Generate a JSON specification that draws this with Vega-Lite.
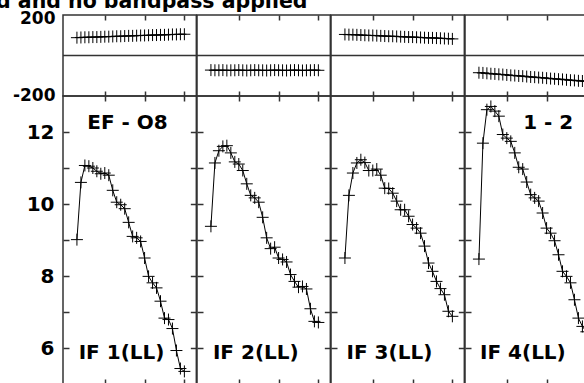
{
  "$schema": "https://vega.github.io/schema/vega-lite/v6.json",
  "background": "white",
  "padding": {"left": -4, "top": -9, "right": -13, "bottom": 0},
  "title": {"text": "d and no bandpass applied", "anchor": "start", "frame": "group", "font": "DejaVu Sans", "fontSize": 20.5, "fontWeight": "bold", "color": "#000", "baseline": "alphabetic", "offset": -20, "dx": -67},
  "datasets": {
    "amp": [
      {"if":1,"ch":3,"amp":9.01},{"if":1,"ch":4,"amp":10.60},{"if":1,"ch":5,"amp":11.07},{"if":1,"ch":6,"amp":11.05},{"if":1,"ch":7,"amp":11.00},{"if":1,"ch":8,"amp":10.91},{"if":1,"ch":9,"amp":10.84},{"if":1,"ch":10,"amp":10.86},{"if":1,"ch":11,"amp":10.80},{"if":1,"ch":12,"amp":10.38},{"if":1,"ch":13,"amp":10.05},{"if":1,"ch":14,"amp":9.98},{"if":1,"ch":15,"amp":9.87},{"if":1,"ch":16,"amp":9.49},{"if":1,"ch":17,"amp":9.10},{"if":1,"ch":18,"amp":9.06},{"if":1,"ch":19,"amp":8.96},{"if":1,"ch":20,"amp":8.50},{"if":1,"ch":21,"amp":7.99},{"if":1,"ch":22,"amp":7.81},{"if":1,"ch":23,"amp":7.67},{"if":1,"ch":24,"amp":7.30},{"if":1,"ch":25,"amp":6.83},{"if":1,"ch":26,"amp":6.79},{"if":1,"ch":27,"amp":6.54},{"if":1,"ch":28,"amp":5.93},{"if":1,"ch":29,"amp":5.43},{"if":1,"ch":30,"amp":5.35},
      {"if":2,"ch":3,"amp":9.38},{"if":2,"ch":4,"amp":11.14},{"if":2,"ch":5,"amp":11.48},{"if":2,"ch":6,"amp":11.60},{"if":2,"ch":7,"amp":11.62},{"if":2,"ch":8,"amp":11.42},{"if":2,"ch":9,"amp":11.17},{"if":2,"ch":10,"amp":11.11},{"if":2,"ch":11,"amp":10.93},{"if":2,"ch":12,"amp":10.56},{"if":2,"ch":13,"amp":10.24},{"if":2,"ch":14,"amp":10.17},{"if":2,"ch":15,"amp":10.05},{"if":2,"ch":16,"amp":9.63},{"if":2,"ch":17,"amp":9.06},{"if":2,"ch":18,"amp":8.76},{"if":2,"ch":19,"amp":8.80},{"if":2,"ch":20,"amp":8.50},{"if":2,"ch":21,"amp":8.46},{"if":2,"ch":22,"amp":8.39},{"if":2,"ch":23,"amp":8.04},{"if":2,"ch":24,"amp":7.85},{"if":2,"ch":25,"amp":7.69},{"if":2,"ch":26,"amp":7.71},{"if":2,"ch":27,"amp":7.64},{"if":2,"ch":28,"amp":7.09},{"if":2,"ch":29,"amp":6.74},{"if":2,"ch":30,"amp":6.71},
      {"if":3,"ch":3,"amp":8.50},{"if":3,"ch":4,"amp":10.24},{"if":3,"ch":5,"amp":10.86},{"if":3,"ch":6,"amp":11.14},{"if":3,"ch":7,"amp":11.23},{"if":3,"ch":8,"amp":11.15},{"if":3,"ch":9,"amp":10.93},{"if":3,"ch":10,"amp":10.93},{"if":3,"ch":11,"amp":10.97},{"if":3,"ch":12,"amp":10.80},{"if":3,"ch":13,"amp":10.44},{"if":3,"ch":14,"amp":10.43},{"if":3,"ch":15,"amp":10.30},{"if":3,"ch":16,"amp":10.08},{"if":3,"ch":17,"amp":9.84},{"if":3,"ch":18,"amp":9.84},{"if":3,"ch":19,"amp":9.66},{"if":3,"ch":20,"amp":9.43},{"if":3,"ch":21,"amp":9.33},{"if":3,"ch":22,"amp":9.19},{"if":3,"ch":23,"amp":8.83},{"if":3,"ch":24,"amp":8.36},{"if":3,"ch":25,"amp":8.13},{"if":3,"ch":26,"amp":7.85},{"if":3,"ch":27,"amp":7.65},{"if":3,"ch":28,"amp":7.48},{"if":3,"ch":29,"amp":7.02},{"if":3,"ch":30,"amp":6.88},
      {"if":4,"ch":3,"amp":8.47},{"if":4,"ch":4,"amp":11.69},{"if":4,"ch":5,"amp":12.62},{"if":4,"ch":6,"amp":12.71},{"if":4,"ch":7,"amp":12.58},{"if":4,"ch":8,"amp":12.44},{"if":4,"ch":9,"amp":11.93},{"if":4,"ch":10,"amp":11.83},{"if":4,"ch":11,"amp":11.74},{"if":4,"ch":12,"amp":11.42},{"if":4,"ch":13,"amp":11.02},{"if":4,"ch":14,"amp":10.97},{"if":4,"ch":15,"amp":10.61},{"if":4,"ch":16,"amp":10.26},{"if":4,"ch":17,"amp":10.17},{"if":4,"ch":18,"amp":10.08},{"if":4,"ch":19,"amp":9.75},{"if":4,"ch":20,"amp":9.33},{"if":4,"ch":21,"amp":9.19},{"if":4,"ch":22,"amp":8.98},{"if":4,"ch":23,"amp":8.59},{"if":4,"ch":24,"amp":8.13},{"if":4,"ch":25,"amp":7.99},{"if":4,"ch":26,"amp":7.81},{"if":4,"ch":27,"amp":7.34},{"if":4,"ch":28,"amp":6.83},{"if":4,"ch":29,"amp":6.60},{"if":4,"ch":30,"amp":6.45}
    ],
    "phase": [
      {"if":1,"ch":3,"ph":88},{"if":1,"ch":4,"ph":89},{"if":1,"ch":5,"ph":90},{"if":1,"ch":6,"ph":90},{"if":1,"ch":7,"ph":91},{"if":1,"ch":8,"ph":91},{"if":1,"ch":9,"ph":92},{"if":1,"ch":10,"ph":93},{"if":1,"ch":11,"ph":93},{"if":1,"ch":12,"ph":94},{"if":1,"ch":13,"ph":95},{"if":1,"ch":14,"ph":95},{"if":1,"ch":15,"ph":96},{"if":1,"ch":16,"ph":97},{"if":1,"ch":17,"ph":97},{"if":1,"ch":18,"ph":98},{"if":1,"ch":19,"ph":99},{"if":1,"ch":20,"ph":99},{"if":1,"ch":21,"ph":100},{"if":1,"ch":22,"ph":101},{"if":1,"ch":23,"ph":101},{"if":1,"ch":24,"ph":102},{"if":1,"ch":25,"ph":102},{"if":1,"ch":26,"ph":103},{"if":1,"ch":27,"ph":104},{"if":1,"ch":28,"ph":104},{"if":1,"ch":29,"ph":105},{"if":1,"ch":30,"ph":105},
      {"if":2,"ch":3,"ph":-72},{"if":2,"ch":4,"ph":-73},{"if":2,"ch":5,"ph":-73},{"if":2,"ch":6,"ph":-72},{"if":2,"ch":7,"ph":-74},{"if":2,"ch":8,"ph":-73},{"if":2,"ch":9,"ph":-73},{"if":2,"ch":10,"ph":-72},{"if":2,"ch":11,"ph":-73},{"if":2,"ch":12,"ph":-74},{"if":2,"ch":13,"ph":-73},{"if":2,"ch":14,"ph":-72},{"if":2,"ch":15,"ph":-73},{"if":2,"ch":16,"ph":-73},{"if":2,"ch":17,"ph":-74},{"if":2,"ch":18,"ph":-73},{"if":2,"ch":19,"ph":-72},{"if":2,"ch":20,"ph":-73},{"if":2,"ch":21,"ph":-73},{"if":2,"ch":22,"ph":-74},{"if":2,"ch":23,"ph":-73},{"if":2,"ch":24,"ph":-72},{"if":2,"ch":25,"ph":-73},{"if":2,"ch":26,"ph":-74},{"if":2,"ch":27,"ph":-73},{"if":2,"ch":28,"ph":-73},{"if":2,"ch":29,"ph":-72},{"if":2,"ch":30,"ph":-73},
      {"if":3,"ch":3,"ph":104},{"if":3,"ch":4,"ph":103},{"if":3,"ch":5,"ph":103},{"if":3,"ch":6,"ph":102},{"if":3,"ch":7,"ph":101},{"if":3,"ch":8,"ph":100},{"if":3,"ch":9,"ph":99},{"if":3,"ch":10,"ph":99},{"if":3,"ch":11,"ph":98},{"if":3,"ch":12,"ph":97},{"if":3,"ch":13,"ph":96},{"if":3,"ch":14,"ph":95},{"if":3,"ch":15,"ph":95},{"if":3,"ch":16,"ph":94},{"if":3,"ch":17,"ph":93},{"if":3,"ch":18,"ph":92},{"if":3,"ch":19,"ph":91},{"if":3,"ch":20,"ph":91},{"if":3,"ch":21,"ph":90},{"if":3,"ch":22,"ph":89},{"if":3,"ch":23,"ph":88},{"if":3,"ch":24,"ph":87},{"if":3,"ch":25,"ph":87},{"if":3,"ch":26,"ph":86},{"if":3,"ch":27,"ph":85},{"if":3,"ch":28,"ph":84},{"if":3,"ch":29,"ph":83},{"if":3,"ch":30,"ph":82},
      {"if":4,"ch":3,"ph":-85},{"if":4,"ch":4,"ph":-86},{"if":4,"ch":5,"ph":-88},{"if":4,"ch":6,"ph":-90},{"if":4,"ch":7,"ph":-91},{"if":4,"ch":8,"ph":-93},{"if":4,"ch":9,"ph":-94},{"if":4,"ch":10,"ph":-96},{"if":4,"ch":11,"ph":-98},{"if":4,"ch":12,"ph":-99},{"if":4,"ch":13,"ph":-101},{"if":4,"ch":14,"ph":-102},{"if":4,"ch":15,"ph":-104},{"if":4,"ch":16,"ph":-106},{"if":4,"ch":17,"ph":-107},{"if":4,"ch":18,"ph":-109},{"if":4,"ch":19,"ph":-110},{"if":4,"ch":20,"ph":-112},{"if":4,"ch":21,"ph":-114},{"if":4,"ch":22,"ph":-115},{"if":4,"ch":23,"ph":-117},{"if":4,"ch":24,"ph":-118},{"if":4,"ch":25,"ph":-120},{"if":4,"ch":26,"ph":-122},{"if":4,"ch":27,"ph":-123},{"if":4,"ch":28,"ph":-125},{"if":4,"ch":29,"ph":-126},{"if":4,"ch":30,"ph":-128}
    ]
  },
  "columns": 4,
  "spacing": 0,
  "bounds": "flush",
  "align": "each",
  "concat": [
    {
      "width": 133.33, "height": 81,
      "layer": [
        {"data": {"values": [{}]}, "mark": {"type": "rule", "color": "#333", "strokeWidth": 1.5},
         "encoding": {"y": {"datum": 0, "type": "quantitative", "scale": {"domain": [-200, 200], "nice": false, "zero": false},
           "axis": {"orient": "left", "values": [-200, 200], "ticks": false, "domain": false, "grid": false, "labelExpr": "datum.value > 0 ? '200' : '-200'", "labelFont": "DejaVu Sans", "labelFontWeight": "bold", "labelFontSize": 17, "labelColor": "#000", "labelPadding": 8, "labelBaseline": "middle", "labelOverlap": false, "labelOffset": {"condition": {"test": "datum.value > 0", "value": 3}, "value": -1}, "title": null}}}},
        {"data": {"name": "phase"}, "transform": [{"filter": "datum.if == 1"}], "mark": {"type": "line", "color": "#000", "strokeWidth": 1},
         "encoding": {"x": {"field": "ch", "type": "quantitative", "scale": {"domain": [-0.5, 33], "nice": false, "zero": false}, "axis": {"orient": "bottom", "values": [10, 20, 30], "labels": false, "domain": false, "grid": false, "tickSize": 5, "offset": -5, "tickColor": "#333", "tickWidth": 1.5, "title": null}},
           "y": {"field": "ph", "type": "quantitative", "scale": {"domain": [-200, 200], "nice": false, "zero": false}, "axis": null}}},
        {"data": {"name": "phase"}, "transform": [{"filter": "datum.if == 1"}], "mark": {"type": "point", "shape": "M-1,0L1,0M0,-1L0,1", "size": 144, "filled": false, "stroke": "#000", "strokeWidth": 1, "opacity": 1},
         "encoding": {"x": {"field": "ch", "type": "quantitative", "scale": {"domain": [-0.5, 33], "nice": false, "zero": false}, "axis": {"orient": "top", "values": [10, 20, 30], "labels": false, "domain": false, "grid": false, "tickSize": 5, "offset": -5, "tickColor": "#333", "tickWidth": 1.5, "title": null}},
           "y": {"field": "ph", "type": "quantitative", "scale": {"domain": [-200, 200], "nice": false, "zero": false}, "axis": null}}}
      ],
      "resolve": {"axis": {"x": "independent", "y": "independent"}}
    },
    {
      "width": 133.33, "height": 81,
      "layer": [
        {"data": {"values": [{}]}, "mark": {"type": "rule", "color": "#333", "strokeWidth": 1.5},
         "encoding": {"y": {"datum": 0, "type": "quantitative", "scale": {"domain": [-200, 200], "nice": false, "zero": false}, "axis": null}}},
        {"data": {"name": "phase"}, "transform": [{"filter": "datum.if == 2"}], "mark": {"type": "line", "color": "#000", "strokeWidth": 1},
         "encoding": {"x": {"field": "ch", "type": "quantitative", "scale": {"domain": [-0.5, 33], "nice": false, "zero": false}, "axis": {"orient": "bottom", "values": [10, 20, 30], "labels": false, "domain": false, "grid": false, "tickSize": 5, "offset": -5, "tickColor": "#333", "tickWidth": 1.5, "title": null}},
           "y": {"field": "ph", "type": "quantitative", "scale": {"domain": [-200, 200], "nice": false, "zero": false}, "axis": null}}},
        {"data": {"name": "phase"}, "transform": [{"filter": "datum.if == 2"}], "mark": {"type": "point", "shape": "M-1,0L1,0M0,-1L0,1", "size": 144, "filled": false, "stroke": "#000", "strokeWidth": 1, "opacity": 1},
         "encoding": {"x": {"field": "ch", "type": "quantitative", "scale": {"domain": [-0.5, 33], "nice": false, "zero": false}, "axis": {"orient": "top", "values": [10, 20, 30], "labels": false, "domain": false, "grid": false, "tickSize": 5, "offset": -5, "tickColor": "#333", "tickWidth": 1.5, "title": null}},
           "y": {"field": "ph", "type": "quantitative", "scale": {"domain": [-200, 200], "nice": false, "zero": false}, "axis": null}}}
      ],
      "resolve": {"axis": {"x": "independent", "y": "independent"}}
    },
    {
      "width": 133.33, "height": 81,
      "layer": [
        {"data": {"values": [{}]}, "mark": {"type": "rule", "color": "#333", "strokeWidth": 1.5},
         "encoding": {"y": {"datum": 0, "type": "quantitative", "scale": {"domain": [-200, 200], "nice": false, "zero": false}, "axis": null}}},
        {"data": {"name": "phase"}, "transform": [{"filter": "datum.if == 3"}], "mark": {"type": "line", "color": "#000", "strokeWidth": 1},
         "encoding": {"x": {"field": "ch", "type": "quantitative", "scale": {"domain": [-0.5, 33], "nice": false, "zero": false}, "axis": {"orient": "bottom", "values": [10, 20, 30], "labels": false, "domain": false, "grid": false, "tickSize": 5, "offset": -5, "tickColor": "#333", "tickWidth": 1.5, "title": null}},
           "y": {"field": "ph", "type": "quantitative", "scale": {"domain": [-200, 200], "nice": false, "zero": false}, "axis": null}}},
        {"data": {"name": "phase"}, "transform": [{"filter": "datum.if == 3"}], "mark": {"type": "point", "shape": "M-1,0L1,0M0,-1L0,1", "size": 144, "filled": false, "stroke": "#000", "strokeWidth": 1, "opacity": 1},
         "encoding": {"x": {"field": "ch", "type": "quantitative", "scale": {"domain": [-0.5, 33], "nice": false, "zero": false}, "axis": {"orient": "top", "values": [10, 20, 30], "labels": false, "domain": false, "grid": false, "tickSize": 5, "offset": -5, "tickColor": "#333", "tickWidth": 1.5, "title": null}},
           "y": {"field": "ph", "type": "quantitative", "scale": {"domain": [-200, 200], "nice": false, "zero": false}, "axis": null}}}
      ],
      "resolve": {"axis": {"x": "independent", "y": "independent"}}
    },
    {
      "width": 133.33, "height": 81,
      "layer": [
        {"data": {"values": [{}]}, "mark": {"type": "rule", "color": "#333", "strokeWidth": 1.5},
         "encoding": {"y": {"datum": 0, "type": "quantitative", "scale": {"domain": [-200, 200], "nice": false, "zero": false}, "axis": null}}},
        {"data": {"name": "phase"}, "transform": [{"filter": "datum.if == 4"}], "mark": {"type": "line", "color": "#000", "strokeWidth": 1},
         "encoding": {"x": {"field": "ch", "type": "quantitative", "scale": {"domain": [-0.5, 33], "nice": false, "zero": false}, "axis": {"orient": "bottom", "values": [10, 20, 30], "labels": false, "domain": false, "grid": false, "tickSize": 5, "offset": -5, "tickColor": "#333", "tickWidth": 1.5, "title": null}},
           "y": {"field": "ph", "type": "quantitative", "scale": {"domain": [-200, 200], "nice": false, "zero": false}, "axis": null}}},
        {"data": {"name": "phase"}, "transform": [{"filter": "datum.if == 4"}], "mark": {"type": "point", "shape": "M-1,0L1,0M0,-1L0,1", "size": 144, "filled": false, "stroke": "#000", "strokeWidth": 1, "opacity": 1},
         "encoding": {"x": {"field": "ch", "type": "quantitative", "scale": {"domain": [-0.5, 33], "nice": false, "zero": false}, "axis": {"orient": "top", "values": [10, 20, 30], "labels": false, "domain": false, "grid": false, "tickSize": 5, "offset": -5, "tickColor": "#333", "tickWidth": 1.5, "title": null}},
           "y": {"field": "ph", "type": "quantitative", "scale": {"domain": [-200, 200], "nice": false, "zero": false}, "axis": null}}}
      ],
      "resolve": {"axis": {"x": "independent", "y": "independent"}}
    },
    {
      "width": 133.33, "height": 288,
      "layer": [
        {"data": {"name": "amp"}, "transform": [{"filter": "datum.if == 1"}], "mark": {"type": "line", "color": "#000", "strokeWidth": 1},
         "encoding": {"x": {"field": "ch", "type": "quantitative", "scale": {"domain": [-0.5, 33], "nice": false, "zero": false}, "axis": {"orient": "bottom", "values": [10, 20, 30], "labels": false, "domain": false, "grid": false, "tickSize": 5, "offset": -5, "tickColor": "#333", "tickWidth": 1.5, "title": null}},
           "y": {"field": "amp", "type": "quantitative", "scale": {"domain": [5, 13], "nice": false, "zero": false}, "axis": {"orient": "left", "values": [6, 7, 8, 9, 10, 11, 12], "domain": false, "grid": false, "tickSize": 6, "offset": -6, "tickColor": "#333", "tickWidth": 1.5, "labelExpr": "datum.value % 2 == 0 ? datum.label : ''", "labelFont": "DejaVu Sans", "labelFontWeight": "bold", "labelFontSize": 20, "labelColor": "#000", "labelPadding": 9, "labelBaseline": "middle", "labelOverlap": false, "title": null}}}},
        {"data": {"name": "amp"}, "transform": [{"filter": "datum.if == 1"}], "mark": {"type": "point", "shape": "M-1,0L1,0M0,-1L0,1", "size": 144, "filled": false, "stroke": "#000", "strokeWidth": 1, "opacity": 1},
         "encoding": {"x": {"field": "ch", "type": "quantitative", "scale": {"domain": [-0.5, 33], "nice": false, "zero": false}, "axis": {"orient": "top", "values": [10, 20, 30], "labels": false, "domain": false, "grid": false, "tickSize": 5, "offset": -5, "tickColor": "#333", "tickWidth": 1.5, "title": null}},
           "y": {"field": "amp", "type": "quantitative", "scale": {"domain": [5, 13], "nice": false, "zero": false}, "axis": {"orient": "right", "values": [6, 7, 8, 9, 10, 11, 12], "labels": false, "domain": false, "grid": false, "tickSize": 6, "offset": -6, "tickColor": "#333", "tickWidth": 1.5, "title": null}}}},
        {"data": {"values": [{}]}, "mark": {"type": "text", "text": "EF - O8", "font": "DejaVu Sans", "fontWeight": "bold", "fontSize": 20, "color": "#000", "align": "left", "baseline": "alphabetic"},
         "encoding": {"x": {"datum": 5.6, "type": "quantitative", "scale": {"domain": [-0.5, 33], "nice": false, "zero": false}, "axis": null}, "y": {"datum": 12.07, "type": "quantitative", "scale": {"domain": [5, 13], "nice": false, "zero": false}, "axis": null}}},
        {"data": {"values": [{}]}, "mark": {"type": "text", "text": "IF 1(LL)", "font": "DejaVu Sans", "fontWeight": "bold", "fontSize": 20, "color": "#000", "align": "left", "baseline": "alphabetic"},
         "encoding": {"x": {"datum": 3.44, "type": "quantitative", "scale": {"domain": [-0.5, 33], "nice": false, "zero": false}, "axis": null}, "y": {"datum": 5.69, "type": "quantitative", "scale": {"domain": [5, 13], "nice": false, "zero": false}, "axis": null}}}
      ],
      "resolve": {"axis": {"x": "independent", "y": "independent"}}
    },
    {
      "width": 133.33, "height": 288,
      "layer": [
        {"data": {"name": "amp"}, "transform": [{"filter": "datum.if == 2"}], "mark": {"type": "line", "color": "#000", "strokeWidth": 1},
         "encoding": {"x": {"field": "ch", "type": "quantitative", "scale": {"domain": [-0.5, 33], "nice": false, "zero": false}, "axis": {"orient": "bottom", "values": [10, 20, 30], "labels": false, "domain": false, "grid": false, "tickSize": 5, "offset": -5, "tickColor": "#333", "tickWidth": 1.5, "title": null}},
           "y": {"field": "amp", "type": "quantitative", "scale": {"domain": [5, 13], "nice": false, "zero": false}, "axis": {"orient": "left", "values": [6, 7, 8, 9, 10, 11, 12], "labels": false, "domain": false, "grid": false, "tickSize": 6, "offset": -6, "tickColor": "#333", "tickWidth": 1.5, "title": null}}}},
        {"data": {"name": "amp"}, "transform": [{"filter": "datum.if == 2"}], "mark": {"type": "point", "shape": "M-1,0L1,0M0,-1L0,1", "size": 144, "filled": false, "stroke": "#000", "strokeWidth": 1, "opacity": 1},
         "encoding": {"x": {"field": "ch", "type": "quantitative", "scale": {"domain": [-0.5, 33], "nice": false, "zero": false}, "axis": {"orient": "top", "values": [10, 20, 30], "labels": false, "domain": false, "grid": false, "tickSize": 5, "offset": -5, "tickColor": "#333", "tickWidth": 1.5, "title": null}},
           "y": {"field": "amp", "type": "quantitative", "scale": {"domain": [5, 13], "nice": false, "zero": false}, "axis": {"orient": "right", "values": [6, 7, 8, 9, 10, 11, 12], "labels": false, "domain": false, "grid": false, "tickSize": 6, "offset": -6, "tickColor": "#333", "tickWidth": 1.5, "title": null}}}},
        {"data": {"values": [{}]}, "mark": {"type": "text", "text": "IF 2(LL)", "font": "DejaVu Sans", "fontWeight": "bold", "fontSize": 20, "color": "#000", "align": "left", "baseline": "alphabetic"},
         "encoding": {"x": {"datum": 3.5, "type": "quantitative", "scale": {"domain": [-0.5, 33], "nice": false, "zero": false}, "axis": null}, "y": {"datum": 5.69, "type": "quantitative", "scale": {"domain": [5, 13], "nice": false, "zero": false}, "axis": null}}}
      ],
      "resolve": {"axis": {"x": "independent", "y": "independent"}}
    },
    {
      "width": 133.33, "height": 288,
      "layer": [
        {"data": {"name": "amp"}, "transform": [{"filter": "datum.if == 3"}], "mark": {"type": "line", "color": "#000", "strokeWidth": 1},
         "encoding": {"x": {"field": "ch", "type": "quantitative", "scale": {"domain": [-0.5, 33], "nice": false, "zero": false}, "axis": {"orient": "bottom", "values": [10, 20, 30], "labels": false, "domain": false, "grid": false, "tickSize": 5, "offset": -5, "tickColor": "#333", "tickWidth": 1.5, "title": null}},
           "y": {"field": "amp", "type": "quantitative", "scale": {"domain": [5, 13], "nice": false, "zero": false}, "axis": {"orient": "left", "values": [6, 7, 8, 9, 10, 11, 12], "labels": false, "domain": false, "grid": false, "tickSize": 6, "offset": -6, "tickColor": "#333", "tickWidth": 1.5, "title": null}}}},
        {"data": {"name": "amp"}, "transform": [{"filter": "datum.if == 3"}], "mark": {"type": "point", "shape": "M-1,0L1,0M0,-1L0,1", "size": 144, "filled": false, "stroke": "#000", "strokeWidth": 1, "opacity": 1},
         "encoding": {"x": {"field": "ch", "type": "quantitative", "scale": {"domain": [-0.5, 33], "nice": false, "zero": false}, "axis": {"orient": "top", "values": [10, 20, 30], "labels": false, "domain": false, "grid": false, "tickSize": 5, "offset": -5, "tickColor": "#333", "tickWidth": 1.5, "title": null}},
           "y": {"field": "amp", "type": "quantitative", "scale": {"domain": [5, 13], "nice": false, "zero": false}, "axis": {"orient": "right", "values": [6, 7, 8, 9, 10, 11, 12], "labels": false, "domain": false, "grid": false, "tickSize": 6, "offset": -6, "tickColor": "#333", "tickWidth": 1.5, "title": null}}}},
        {"data": {"values": [{}]}, "mark": {"type": "text", "text": "IF 3(LL)", "font": "DejaVu Sans", "fontWeight": "bold", "fontSize": 20, "color": "#000", "align": "left", "baseline": "alphabetic"},
         "encoding": {"x": {"datum": 3.4, "type": "quantitative", "scale": {"domain": [-0.5, 33], "nice": false, "zero": false}, "axis": null}, "y": {"datum": 5.69, "type": "quantitative", "scale": {"domain": [5, 13], "nice": false, "zero": false}, "axis": null}}}
      ],
      "resolve": {"axis": {"x": "independent", "y": "independent"}}
    },
    {
      "width": 133.33, "height": 288,
      "layer": [
        {"data": {"name": "amp"}, "transform": [{"filter": "datum.if == 4"}], "mark": {"type": "line", "color": "#000", "strokeWidth": 1},
         "encoding": {"x": {"field": "ch", "type": "quantitative", "scale": {"domain": [-0.5, 33], "nice": false, "zero": false}, "axis": {"orient": "bottom", "values": [10, 20, 30], "labels": false, "domain": false, "grid": false, "tickSize": 5, "offset": -5, "tickColor": "#333", "tickWidth": 1.5, "title": null}},
           "y": {"field": "amp", "type": "quantitative", "scale": {"domain": [5, 13], "nice": false, "zero": false}, "axis": {"orient": "left", "values": [6, 7, 8, 9, 10, 11, 12], "labels": false, "domain": false, "grid": false, "tickSize": 6, "offset": -6, "tickColor": "#333", "tickWidth": 1.5, "title": null}}}},
        {"data": {"name": "amp"}, "transform": [{"filter": "datum.if == 4"}], "mark": {"type": "point", "shape": "M-1,0L1,0M0,-1L0,1", "size": 144, "filled": false, "stroke": "#000", "strokeWidth": 1, "opacity": 1},
         "encoding": {"x": {"field": "ch", "type": "quantitative", "scale": {"domain": [-0.5, 33], "nice": false, "zero": false}, "axis": {"orient": "top", "values": [10, 20, 30], "labels": false, "domain": false, "grid": false, "tickSize": 5, "offset": -5, "tickColor": "#333", "tickWidth": 1.5, "title": null}},
           "y": {"field": "amp", "type": "quantitative", "scale": {"domain": [5, 13], "nice": false, "zero": false}, "axis": {"orient": "right", "values": [6, 7, 8, 9, 10, 11, 12], "labels": false, "domain": false, "grid": false, "tickSize": 6, "offset": -6, "tickColor": "#333", "tickWidth": 1.5, "title": null}}}},
        {"data": {"values": [{}]}, "mark": {"type": "text", "text": "1 - 2", "font": "DejaVu Sans", "fontWeight": "bold", "fontSize": 20, "color": "#000", "align": "right", "baseline": "alphabetic"},
         "encoding": {"x": {"datum": 26.7, "type": "quantitative", "scale": {"domain": [-0.5, 33], "nice": false, "zero": false}, "axis": null}, "y": {"datum": 12.07, "type": "quantitative", "scale": {"domain": [5, 13], "nice": false, "zero": false}, "axis": null}}},
        {"data": {"values": [{}]}, "mark": {"type": "text", "text": "IF 4(LL)", "font": "DejaVu Sans", "fontWeight": "bold", "fontSize": 20, "color": "#000", "align": "left", "baseline": "alphabetic"},
         "encoding": {"x": {"datum": 3.27, "type": "quantitative", "scale": {"domain": [-0.5, 33], "nice": false, "zero": false}, "axis": null}, "y": {"datum": 5.69, "type": "quantitative", "scale": {"domain": [5, 13], "nice": false, "zero": false}, "axis": null}}}
      ],
      "resolve": {"axis": {"x": "independent", "y": "independent"}}
    }
  ],
  "config": {
    "view": {"stroke": "#333", "strokeWidth": 1.5}
  }
}
